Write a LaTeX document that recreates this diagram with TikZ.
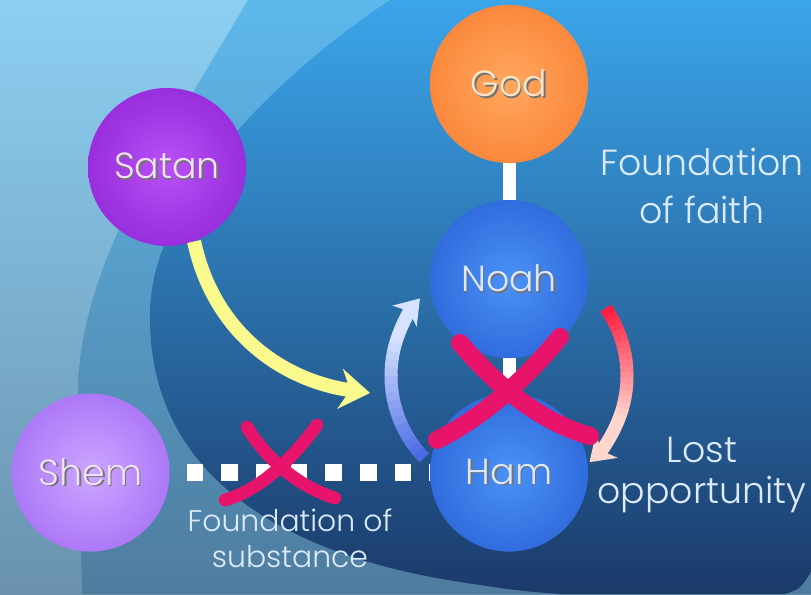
\documentclass[tikz,border=0pt]{standalone}
\usepackage{fontspec}
\setmainfont{Poppins}[UprightFont={* Light}]
\usepackage{tikz}
\usetikzlibrary{arrows.meta,positioning,backgrounds,calc}

\definecolor{skylt}{HTML}{8DCFF2}
\definecolor{skyltb}{HTML}{6A92AE}
\definecolor{skymd}{HTML}{5DB8EC}
\definecolor{skymdb}{HTML}{4F7C9E}
\definecolor{skydk}{HTML}{3BA5EA}
\definecolor{skydkb}{HTML}{1B3A6A}
\definecolor{godin}{HTML}{FFA75E}
\definecolor{godout}{HTML}{F56A1C}
\definecolor{godtxt}{HTML}{F7E8CC}
\definecolor{noahin}{HTML}{4A92F6}
\definecolor{noahout}{HTML}{1746C4}
\definecolor{bluetxt}{HTML}{DCE8FF}
\definecolor{shemin}{HTML}{CDA6FF}
\definecolor{shemout}{HTML}{8C4AF0}
\definecolor{shemtxt}{HTML}{F0E2FF}
\definecolor{satin}{HTML}{BA50F6}
\definecolor{satout}{HTML}{760CC4}
\definecolor{sattxt}{HTML}{F6E0FF}
\definecolor{yel}{HTML}{F9F98E}
\definecolor{turnlo}{HTML}{4A6AE6}
\definecolor{turnhi}{HTML}{D6E2FF}
\definecolor{losshi}{HTML}{FF1E40}
\definecolor{losslo}{HTML}{FFD6CE}
\definecolor{xpink}{HTML}{E8146C}
\definecolor{lbltext}{HTML}{DCEBFA}

\colorlet{orbin}{white}\colorlet{orbout}{black}
\pgfdeclareradialshading[orbin,orbout]{orb}{\pgfpoint{0bp}{0bp}}{color(0bp)=(orbin); color(50bp)=(orbout)}
\newcommand\txtshadow[1]{\makebox[0pt][l]{\hspace{0.45mm}\raisebox{-0.45mm}{\color{black!55}#1}}#1}

\begin{document}
\begin{tikzpicture}[x=0.3mm,y=0.3mm,
  font=\fontsize{31}{41}\selectfont,
  orbcols/.code 2 args={\colorlet{orbin}{#1}\colorlet{orbout}{#2}},
  orb/.style 2 args={circle, minimum size=47.4mm, inner sep=0pt, shade, shading=orb, orbcols={#1}{#2}},
  link/.style={white, line width=3.9mm},
  dotlink/.style={white, line width=5mm, dash pattern=on 5mm off 5.4mm, dash phase=5.3mm},
  xmark/.style={draw=xpink, line width=#1, line cap=round},
  lbl/.style={text=lbltext, align=center}]
  % backdrop: light left, middle band, big dark oval. 1px = 0.3mm
  \begin{scope}[on background layer]
    \shade[top color=skylt, bottom color=skyltb] (0,0) rectangle (811,594);
    \shade[top color=skymd, bottom color=skymdb] (248,594) .. controls (170,460) and (78,330) .. (78,200) -- (82,0) -- (811,0) -- (811,594) -- cycle;
    \shade[top color=skydk, bottom color=skydkb] (390,594) .. controls (250,500) and (150,380) .. (150,280)
      .. controls (148,120) and (280,40) .. (460,12) .. controls (520,3) .. (560,0) -- (785,0)
      .. controls (800,5) .. (811,22) -- (811,594) -- cycle;
  \end{scope}
  \useasboundingbox (0,0) rectangle (811,594);

  \node[orb={godin}{godout}, text=godtxt] (God) at (509,510) {\txtshadow{God}};
  \node[orb={noahin}{noahout}, text=bluetxt, below=11mm of God] (Noah) {\txtshadow{Noah}};
  \node[orb={noahin}{noahout}, text=bluetxt, below=10.5mm of Noah] (Ham) {\txtshadow{Ham}};
  \node[orb={shemin}{shemout}, text=shemtxt, left=78mm of Ham] (Shem) {\txtshadow{Shem}};
  \node[orb={satin}{satout}, text=sattxt] (Satan) at (167,427) {\txtshadow{Satan}};
  \coordinate (pivot) at ($(Noah)!0.5!(Ham)$);
  \coordinate (snare) at (370,201);

  \begin{scope}[on background layer]
    \draw[link] (God) -- (Noah);
    \draw[link] (Noah) -- (Ham);
    \draw[dotlink] (Shem) -- (Ham);
  \end{scope}

  % Satan's pull
  \draw[line width=4.2mm, draw=yel, -{Stealth[length=9mm,width=12mm,inset=3mm]}] (Satan.-70) to[out=-78,in=172] (snare);

  % Ham back up to Noah (blue fading to white)
  \foreach \i in {0,...,15}{
    \pgfmathsetmacro\a{224-\i*4}
    \pgfmathtruncatemacro\p{\i*100/15}
    \draw[line width=3.9mm, draw=turnhi!\p!turnlo] ([shift={(\a:35.4mm)}]pivot) arc[start angle=\a, end angle=\a-4.4, radius=35.4mm];
  }
  \draw[line width=3.9mm, draw=turnhi, -{Stealth[length=7mm,width=9.5mm,inset=2mm]}] ([shift={(160:35.4mm)}]pivot) arc[start angle=160, end angle=139, radius=35.4mm];

  % Noah down to Ham (red fading to pink)
  \foreach \i in {0,...,18}{
    \pgfmathsetmacro\a{35-\i*3}
    \pgfmathtruncatemacro\p{\i*100/18}
    \draw[line width=3.9mm, draw=losslo!\p!losshi] ([shift={(\a:35.4mm)}]pivot) arc[start angle=\a, end angle=\a-3.4, radius=35.4mm];
  }
  \draw[line width=3.9mm, draw=losslo, -{Stealth[length=7mm,width=9.5mm,inset=2mm]}] ([shift={(-22:35.4mm)}]pivot) arc[start angle=-22, end angle=-47, radius=35.4mm];

  % crosses
  \draw[xmark=5.4mm] (460,251) .. controls (485,222) and (530,175) .. (590,158);
  \draw[xmark=5.4mm] (560,257) .. controls (535,226) and (490,180) .. (437,154);
  \draw[xmark=3.8mm] (247,167) .. controls (260,145) and (290,110) .. (335,96);
  \draw[xmark=3.8mm] (317,169) .. controls (300,145) and (265,105) .. (225,94);

  \node[lbl] (faith) at (702,408) {Foundation\\of faith};
  \node[lbl, font=\fontsize{31}{35}\selectfont] (lost) at (702,119) {Lost\\opportunity};
  \node[lbl, font=\fontsize{25.5}{31}\selectfont] (substance) at (290,56) {Foundation of\\substance};
\end{tikzpicture}
\end{document}
